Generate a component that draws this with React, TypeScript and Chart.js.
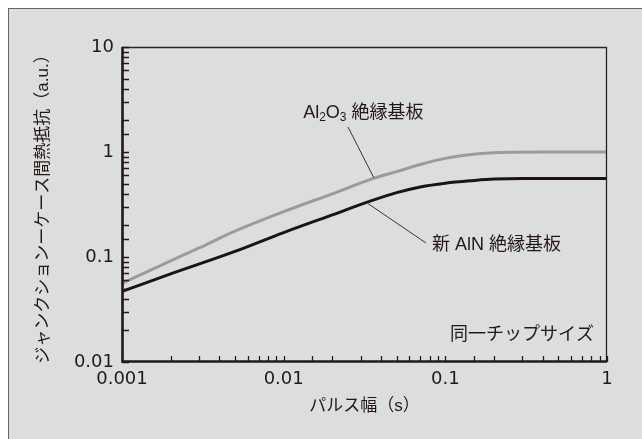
import React, { useEffect, useRef } from "react";
import { Chart, registerables } from "chart.js";

Chart.register(...registerables);

// ---- data ----
const al2o3X = [0.001, 0.002, 0.003, 0.005, 0.01, 0.02, 0.036, 0.05, 0.07, 0.1, 0.16, 0.25, 0.4, 1];
const al2o3Y = [0.056, 0.092, 0.122, 0.176, 0.27, 0.4, 0.56, 0.65, 0.76, 0.87, 0.96, 0.995, 1.0, 1.0];
const alnX = [0.001, 0.002, 0.005, 0.01, 0.02, 0.035, 0.05, 0.07, 0.1, 0.15, 0.2, 0.3, 1];
const alnY = [0.047, 0.069, 0.113, 0.171, 0.252, 0.344, 0.41, 0.465, 0.505, 0.535, 0.552, 0.56, 0.56];

const xTickLabels = ["0.001", "0.01", "0.1", "1"];
const yTickLabels = ["0.01", "0.1", "1", "10"];

const xTitle = "パルス幅（s）";
const yTitle = "ジャンクションーケース間熱抵抗（a.u.）";
const al2o3Label = ["Al", "2", "O", "3", " 絶縁基板"];
const alnLabel = "新 AlN 絶縁基板";
const noteLabel = "同一チップサイズ";

const JP = "'Liberation Sans', 'Noto Sans CJK JP', sans-serif";
const NUM = "'DejaVu Sans', 'Noto Sans CJK JP', sans-serif";
const INK = "#231815";

const decor = {
  id: "decor",
  afterDraw(chart: any) {
    const ctx = chart.ctx;
    const { left, right, top, bottom } = chart.chartArea;
    const xs = chart.scales.x;
    const ys = chart.scales.y;
    ctx.save();
    // frame top/right thin
    ctx.strokeStyle = "#2a2424";
    ctx.lineWidth = 1.3;
    ctx.beginPath();
    ctx.moveTo(left, top + 0.5);
    ctx.lineTo(right - 0.5, top + 0.5);
    ctx.lineTo(right - 0.5, bottom);
    ctx.stroke();
    // inward minor ticks
    ctx.strokeStyle = INK;
    ctx.lineWidth = 1.3;
    ctx.beginPath();
    for (const t of ys.ticks) {
      const p = Math.round(ys.getPixelForValue(t.value)) + 0.5;
      ctx.moveTo(left, p);
      ctx.lineTo(left + 7, p);
    }
    for (const t of xs.ticks) {
      const p = Math.round(xs.getPixelForValue(t.value)) + 0.5;
      ctx.moveTo(p, bottom);
      ctx.lineTo(p, bottom - 6);
    }
    ctx.stroke();
    // thick left / bottom axes
    ctx.strokeStyle = INK;
    ctx.lineWidth = 2.6;
    ctx.beginPath();
    ctx.moveTo(left + 0.5, top);
    ctx.lineTo(left + 0.5, bottom - 0.5);
    ctx.lineTo(right, bottom - 0.5);
    ctx.stroke();

    // leader lines
    ctx.strokeStyle = "#333";
    ctx.lineWidth = 1;
    ctx.beginPath();
    ctx.moveTo(xs.getPixelForValue(0.025), ys.getPixelForValue(1.73));
    ctx.lineTo(xs.getPixelForValue(0.0362), ys.getPixelForValue(0.565));
    ctx.moveTo(xs.getPixelForValue(0.0333), ys.getPixelForValue(0.322));
    ctx.lineTo(xs.getPixelForValue(0.0759), ys.getPixelForValue(0.136));
    ctx.stroke();

    ctx.fillStyle = INK;
    ctx.textBaseline = "middle";
    // Al2O3 label
    let x = xs.getPixelForValue(0.0132);
    const y1 = ys.getPixelForValue(2.35);
    al2o3Label.forEach((s, i) => {
      const sub = i === 1 || i === 3;
      ctx.font = sub ? `12px ${JP}` : `18px ${JP}`;
      ctx.textAlign = "left";
      ctx.fillText(s, x, sub ? y1 + 5 : y1);
      x += ctx.measureText(s).width;
    });
    // AlN label
    ctx.font = `18px ${JP}`;
    ctx.textAlign = "left";
    ctx.fillText(alnLabel, xs.getPixelForValue(0.0827), ys.getPixelForValue(0.13));
    // note
    ctx.textAlign = "right";
    ctx.fillText(noteLabel, xs.getPixelForValue(0.831), ys.getPixelForValue(0.0181));

    // axis titles
    ctx.font = `17px ${JP}`;
    ctx.textAlign = "center";
    ctx.fillText(xTitle, (left + right) / 2, 406);
    ctx.translate(43, 205);
    ctx.rotate(-Math.PI / 2);
    ctx.fillText(yTitle, 0, 0);
    ctx.restore();
  },
};

function fmt(v: number, labels: string[]) {
  const s = String(v);
  return labels.includes(s) ? s : "";
}

export default function App() {
  const ref = useRef<HTMLCanvasElement>(null);
  useEffect(() => {
    const canvas = ref.current!;
    const chart = new Chart(canvas, {
      type: "line",
      data: {
        datasets: [
          {
            label: "Al2O3",
            data: al2o3X.map((x, i) => ({ x, y: al2o3Y[i] })),
            borderColor: "#9b9b9b",
            borderWidth: 3,
            pointRadius: 0,
            cubicInterpolationMode: "monotone",
          },
          {
            label: "AlN",
            data: alnX.map((x, i) => ({ x, y: alnY[i] })),
            borderColor: "#1c1414",
            borderWidth: 3,
            pointRadius: 0,
            cubicInterpolationMode: "monotone",
          },
        ],
      },
      options: {
        responsive: false,
        animation: false,
        devicePixelRatio: 1,
        layout: { padding: { left: 0, right: 35, top: 47, bottom: 0 } },
        plugins: { legend: { display: false }, tooltip: { enabled: false } },
        scales: {
          x: {
            type: "logarithmic",
            min: 0.001,
            max: 1,
            grid: { display: false, drawTicks: false },
            border: { display: false },
            afterFit: (s: any) => {
              s.height = 77;
            },
            ticks: {
              autoSkip: false,
              maxRotation: 0,
              padding: 7,
              color: INK,
              font: { family: NUM, size: 18 },
              callback: (v: any) => fmt(Number(v), xTickLabels),
            },
          },
          y: {
            type: "logarithmic",
            min: 0.01,
            max: 10,
            grid: { display: false, drawTicks: false },
            border: { display: false },
            afterFit: (s: any) => {
              s.width = 122;
            },
            ticks: {
              autoSkip: false,
              padding: 8,
              color: INK,
              font: { family: NUM, size: 18 },
              callback: (v: any) => fmt(Number(v), yTickLabels),
            },
          },
        },
      },
      plugins: [decor],
    } as any);
    return () => chart.destroy();
  }, []);

  return (
    <>
      <div
        style={{
          position: "fixed",
          left: 8,
          top: 8,
          right: 0,
          bottom: 0,
          background: "#dcdedd",
          borderLeft: "1px solid #666",
          borderTop: "1px solid #666",
        }}
      />
      <canvas
        ref={ref}
        width={642}
        height={439}
        style={{ position: "fixed", left: 0, top: 0, width: 642, height: 439 }}
      />
    </>
  );
}
